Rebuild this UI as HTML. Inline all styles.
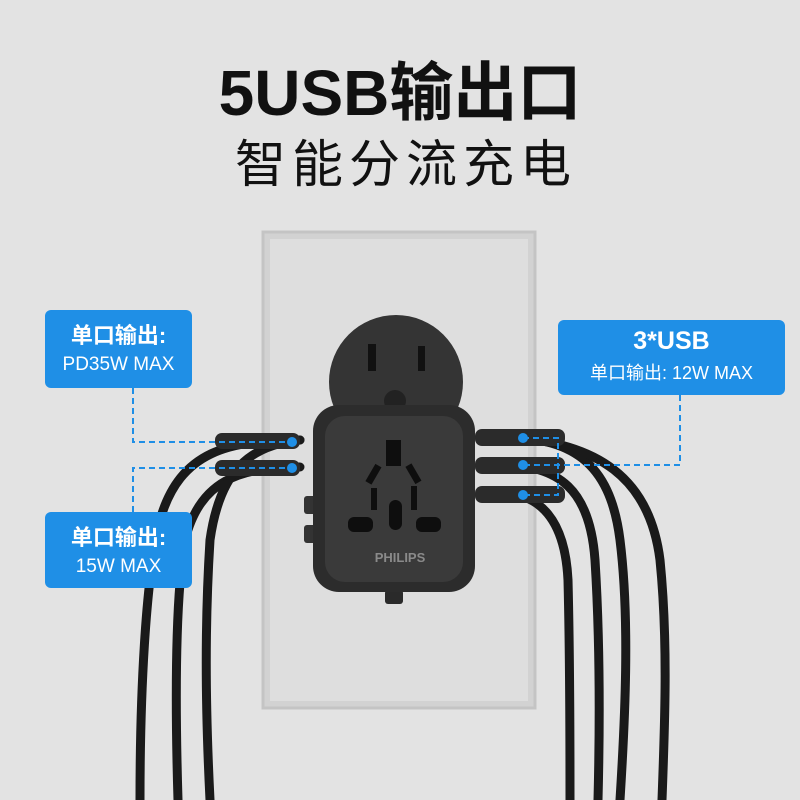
<!DOCTYPE html>
<html><head><meta charset="utf-8"><style>
body{margin:0;width:800px;height:800px;overflow:hidden;background:#e3e3e3;font-family:"Liberation Sans","Noto Sans CJK SC",sans-serif}
.t{position:absolute;width:800px;text-align:center;color:#111}
.b{position:absolute;background:#1f8fe6;color:#fff;border-radius:6px;text-align:center}
</style></head><body>
<div class="t" style="top:56px;font-size:64px;font-weight:bold;line-height:74px">5USB输出口</div>
<div class="t" style="top:135px;font-size:51px;line-height:60px;letter-spacing:6px;padding-left:6px">智能分流充电</div>
<svg width="800" height="800" style="position:absolute;left:0;top:0">
<rect x="263" y="232" width="272" height="476" fill="#d2d2d2" stroke="#c4c4c4" stroke-width="3"/>
<rect x="270" y="239" width="258" height="462" fill="#dedede"/>
<g stroke="#1a1a1a" stroke-width="9" fill="none" stroke-linecap="round">
<path d="M300 440 C230 440 180 450 160 520 C145 580 140 700 140 800"/>
<path d="M300 467 C240 467 200 480 185 540 C175 600 175 700 178 800"/>
<path d="M300 440 C250 445 220 470 210 540 C205 620 205 700 210 800"/>
<path d="M500 437 C570 437 610 460 620 540 C630 620 625 720 620 800"/>
<path d="M500 465 C560 465 590 490 595 560 C600 640 600 720 598 800"/>
<path d="M500 493 C540 493 565 520 568 580 C570 660 570 740 570 800"/>
<path d="M500 437 C600 440 650 480 660 560 C668 640 665 720 662 800"/>
</g>
<g fill="#2b2b2b"><rect x="215" y="433" width="85" height="16" rx="7"/><rect x="215" y="460" width="85" height="16" rx="7"/>
<rect x="475" y="429" width="90" height="17" rx="7"/><rect x="475" y="457" width="90" height="17" rx="7"/><rect x="475" y="486" width="90" height="17" rx="7"/></g>
<circle cx="396" cy="382" r="67" fill="#343434"/>
<rect x="368" y="344" width="8" height="27" fill="#111"/><rect x="418" y="346" width="7" height="25" fill="#111"/>
<circle cx="395" cy="401" r="11" fill="#222"/>
<rect x="304" y="496" width="14" height="18" rx="3" fill="#333"/><rect x="304" y="525" width="14" height="18" rx="3" fill="#333"/>
<rect x="385" y="590" width="18" height="14" rx="3" fill="#2a2a2a"/>
<rect x="313" y="405" width="162" height="187" rx="26" fill="#2c2c2c"/>
<rect x="325" y="416" width="138" height="166" rx="20" fill="#3a3a3a"/>
<g fill="#0e0e0e"><rect x="386" y="440" width="15" height="26"/>
<rect x="370" y="464" width="7" height="20" transform="rotate(30 373 474)"/><rect x="410" y="464" width="7" height="20" transform="rotate(-30 413 474)"/>
<rect x="371" y="488" width="6" height="22"/><rect x="411" y="486" width="6" height="24"/>
<rect x="389" y="500" width="13" height="30" rx="6.5"/>
<rect x="348" y="517" width="25" height="15" rx="6"/><rect x="416" y="517" width="25" height="15" rx="6"/></g>
<text x="400" y="562" text-anchor="middle" font-family="Liberation Sans" font-weight="bold" font-size="13" fill="#8a8a8a">PHILIPS</text>
<g stroke="#1f8fe6" stroke-width="2" stroke-dasharray="6,4" fill="none">
<path d="M133 388 V442 H292"/><path d="M133 512 V468 H292"/>
<path d="M680 395 V465 H523"/><path d="M523 438 H558 V495 H523"/>
</g>
<g fill="#1f8fe6"><circle cx="292" cy="442" r="5"/><circle cx="292" cy="468" r="5"/><circle cx="523" cy="438" r="5"/><circle cx="523" cy="465" r="5"/><circle cx="523" cy="495" r="5"/></g>
</svg>
<div class="b" style="left:45px;top:310px;width:147px;height:78px"><div style="font-weight:bold;font-size:22px;margin-top:8px">单口输出:</div><div style="font-size:19px;margin-top:4px">PD35W MAX</div></div>
<div class="b" style="left:45px;top:512px;width:147px;height:76px"><div style="font-weight:bold;font-size:22px;margin-top:8px">单口输出:</div><div style="font-size:19px;margin-top:4px">15W MAX</div></div>
<div class="b" style="left:558px;top:320px;width:227px;height:75px"><div style="font-weight:bold;font-size:25px;margin-top:7px">3*USB</div><div style="font-size:18px;margin-top:3px">单口输出: 12W MAX</div></div>
</body></html>
